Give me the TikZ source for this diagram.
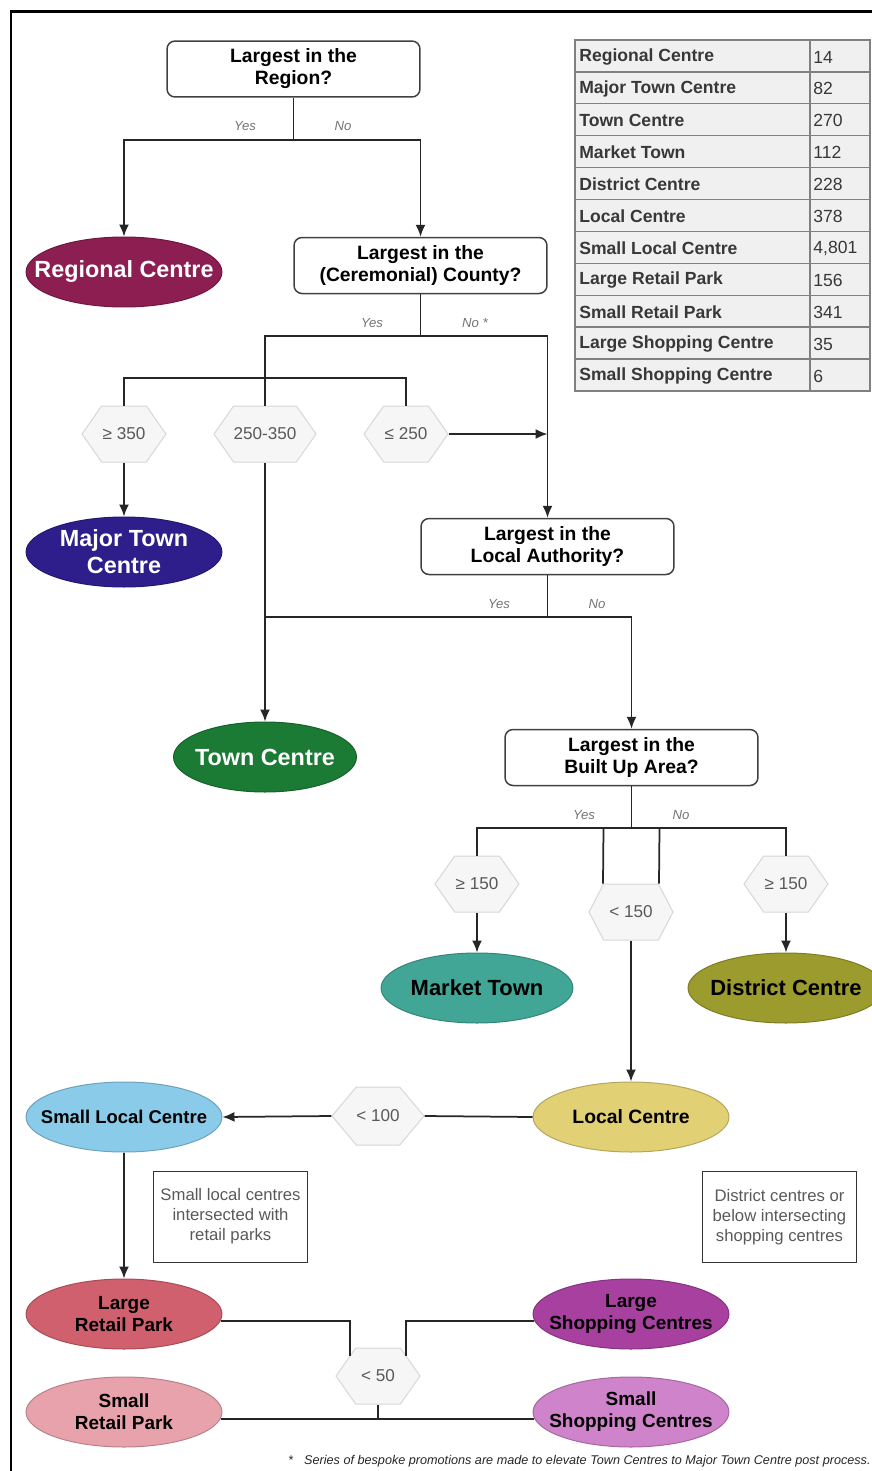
\documentclass[tikz,border=0pt]{standalone}
\usepackage{fontspec}
\setmainfont{Liberation Sans}
\usetikzlibrary{positioning}
\usetikzlibrary{arrows.meta,shapes.geometric,shapes.symbols}
\usetikzlibrary{calc}

\definecolor{regional}{RGB}{140,30,82}
\definecolor{majortown}{RGB}{46,30,140}
\definecolor{towngreen}{RGB}{27,122,52}
\definecolor{market}{RGB}{66,166,150}
\definecolor{district}{RGB}{156,155,45}
\definecolor{localc}{RGB}{226,208,116}
\definecolor{smalllocal}{RGB}{138,203,234}
\definecolor{lretail}{RGB}{208,96,110}
\definecolor{sretail}{RGB}{231,162,172}
\definecolor{lshop}{RGB}{168,64,160}
\definecolor{sshop}{RGB}{206,131,202}
\definecolor{hexfill}{RGB}{246,246,246}
\definecolor{hexline}{RGB}{215,215,215}
\definecolor{cellfill}{RGB}{240,240,240}

\tikzset{
  question/.style={draw=black!75, line width=0.03cm, rounded corners=0.16cm, fill=white,
    minimum width=5.06cm, minimum height=1.12cm, align=center,
    font=\bfseries\fontsize{11}{12.5}\selectfont},
  centre/.style={ellipse, minimum width=3.92cm, minimum height=1.4cm, inner xsep=-1cm,
    inner ysep=-0.4cm, align=center, line width=0.02cm},
  bigtext/.style={text=white, font=\bfseries\fontsize{13.3}{15.3}\selectfont},
  midtext/.style={text=black, font=\bfseries\fontsize{12.5}{14}\selectfont},
  smalltext/.style={text=black, font=\bfseries\fontsize{10.8}{12.5}\selectfont},
  hexa/.style={signal, signal to=east and west, signal pointer angle=110, fill=hexfill,
    draw=hexline, line width=0.02cm, minimum width=1.68cm, minimum height=1.12cm,
    inner sep=0pt, text=black!65, font=\fontsize{9.75}{11}\selectfont},
  yesno/.style={text=black!55, font=\itshape\fontsize{7.5}{9}\selectfont},
  note/.style={draw=black!80, line width=0.02cm, minimum width=3.1cm, minimum height=1.82cm,
    align=center, text=black!65, font=\fontsize{9.5}{11.3}\selectfont},
  link/.style={draw=black!85, line width=0.035cm},
  arr/.style={link, -{Latex[length=2.4mm,width=2mm]}},
  tablecell/.style={draw=black!50, line width=0.025cm, fill=cellfill},
  tabletext/.style={text=black!78, inner sep=0pt, anchor=west, font=\fontsize{10}{12}\selectfont}
}

\begin{document}
\begin{tikzpicture}[x=0.02cm, y=-0.02cm]
  \useasboundingbox (0,0) rectangle (872,1471);
  \draw[line width=0.06cm] (11,1471) -- (11,11) -- (872,11);

  %table
  \foreach \i/\name/\num in {0/Regional Centre/14, 1/Major Town Centre/82, 2/Town Centre/270,
      3/Market Town/112, 4/District Centre/228, 5/Local Centre/378, 6/Small Local Centre/{4,801},
      7/Large Retail Park/156, 8/Small Retail Park/341, 9/Large Shopping Centre/35,
      10/Small Shopping Centre/6} {
    \draw[tablecell] (575,40+\i*31.9) rectangle (810,71.9+\i*31.9);
    \draw[tablecell] (810,40+\i*31.9) rectangle (870,71.9+\i*31.9);
    \node[tabletext, font=\bfseries\fontsize{10}{12}\selectfont] (N\i) at (579,57+\i*31.9) {\name};
    \node[tabletext] (V\i) at (813,57+\i*31.9) {\num};
  }

  %questions
  \node[question] (region) at (293.5,69) {Largest in the\\Region?};
  \node[question] (county) at (420.5,265.5) {Largest in the\\(Ceremonial) County?};
  \node[question] (authority) at (547.5,546.5) {Largest in the\\Local Authority?};
  \node[question] (builtup) at (631.5,757.5) {Largest in the\\Built Up Area?};

  %centres
  \node[centre, bigtext, fill=regional, draw=regional!80!black] (regc) at (124,272) {Regional Centre};
  \node[centre, bigtext, fill=majortown, draw=majortown!80!black] (majc) at (124,552) {Major Town\\Centre};
  \node[centre, bigtext, fill=towngreen, draw=towngreen!80!black, minimum width=3.66cm] (townc) at (265,757) {Town Centre};
  \node[centre, midtext, fill=market, draw=market!80!black, minimum width=3.84cm] (market) at (477,988) {Market Town};
  \node[centre, midtext, fill=district, draw=district!80!black] (district) at (786,988) {District Centre};
  \node[centre, smalltext, fill=localc, draw=localc!80!black, font=\bfseries\fontsize{11}{12.5}\selectfont] (localcn) at (631,1117) {Local Centre};
  \node[centre, smalltext, fill=smalllocal, draw=smalllocal!80!black, font=\bfseries\fontsize{10.5}{12}\selectfont] (smalllocaln) at (124,1117) {Small Local Centre};
  \node[centre, smalltext, fill=lretail, draw=lretail!80!black] (lrp) at (124,1314) {Large\\Retail Park};
  \node[centre, smalltext, fill=lshop, draw=lshop!80!black] (lsc) at (631,1314) {Large\\Shopping Centres};
  \node[centre, smalltext, fill=sretail, draw=sretail!80!black] (srp) at (124,1412) {Small\\Retail Park};
  \node[centre, smalltext, fill=sshop, draw=sshop!80!black] (ssc) at (631,1412) {Small\\Shopping Centres};

  %thresholds
  \node[hexa] (g350) at (124,434) {≥ 350};
  \node[hexa] (g250) at (265,434) {250-350};
  \node[hexa] (l250) at (406,434) {≤ 250};
  \node[hexa] (g150a) at (477,884) {≥ 150};
  \node[hexa, signal pointer angle=125] (l150) at (631,912) {< 150};
  \node[hexa] (g150b) at (786,884) {≥ 150};
  \node[hexa, signal pointer angle=100, minimum height=1.16cm] (l100) at (378,1116) {< 100};
  \node[hexa] (l50) at (378,1376) {< 50};

  %notes
  \node[note] (noteleft) at (230.5,1216.5) {Small local centres\\intersected with\\retail parks};
  \node[note] (noteright) at (779.5,1217) {District centres or\\below intersecting\\shopping centres};

  %region
  \draw[link] (region.south) -- ++(0,42) coordinate (rj);
  \draw[arr] (rj) -| (regc.north);
  \draw[arr] (rj) -| (county.north);
  \node[yesno] (ryes) at (245,126) {Yes};
  \node[yesno] (rno) at (343,126) {No};

  %county
  \draw[link] (county.south) -- ++(0,42) coordinate (cj);
  \draw[link] (cj) -| (g250.north);
  \draw[arr] (cj) -| (authority.north);
  \node[yesno] (cyes) at (372,323) {Yes};
  \node[yesno] (cno) at (475,323) {No *};
  \coordinate (hj) at (265,378);
  \draw[link] (g350.north) |- (hj) -| (l250.north);
  \draw[arr] (g350.south) -- (majc.north);
  \draw[arr] (l250.east) -- (l250.east -| authority.north);
  \draw[arr] (g250.south) -- (townc.north);

  %authority
  \draw[link] (authority.south) -- ++(0,42) coordinate (aj);
  \draw[link] (aj) -- (aj -| townc.north);
  \draw[arr] (aj) -| (builtup.north);
  \node[yesno] (ayes) at (499,604) {Yes};
  \node[yesno] (ano) at (597,604) {No};

  %built up area
  \draw[link] (builtup.south) -- ++(0,42) coordinate (bj);
  \draw[link] (bj) -| (g150a.north);
  \draw[link] (bj) -| (g150b.north);
  \draw[link] ($(bj)+(-28,0)$) -- ($(l150.north)+(-28,0)$);
  \draw[link] ($(bj)+(28,0)$) -- ($(l150.north)+(28,0)$);
  \node[yesno] (byes) at (584,815) {Yes};
  \node[yesno] (bno) at (681,815) {No};
  \draw[arr] (g150a.south) -- (market.north);
  \draw[arr] (g150b.south) -- (district.north);
  \draw[arr] (l150.south) -- (localcn.north);

  %local centres
  \draw[link] (localcn.west) -- (l100.east);
  \draw[arr] (l100.west) -- (smalllocaln.east);
  \draw[arr] (smalllocaln.south) -- (lrp.north);

  %retail parks and shopping centres
  \draw[link] (lrp.-4) -| ($(l50.north)+(-28,8)$);
  \draw[link] (lsc.184) -| ($(l50.north)+(28,8)$);
  \draw[link] (srp.-4) -- (ssc.184);
  \draw[link] (l50.south) -- (l50.south |- srp.-4);

  \node[anchor=east, inner sep=0pt, text=black!85, font=\itshape\fontsize{7.2}{8}\selectfont] (footnote) at (871,1461)
    {*\hspace{0.22cm}Series of bespoke promotions are made to elevate Town Centres to Major Town Centre post process.};
\end{tikzpicture}
\end{document}
